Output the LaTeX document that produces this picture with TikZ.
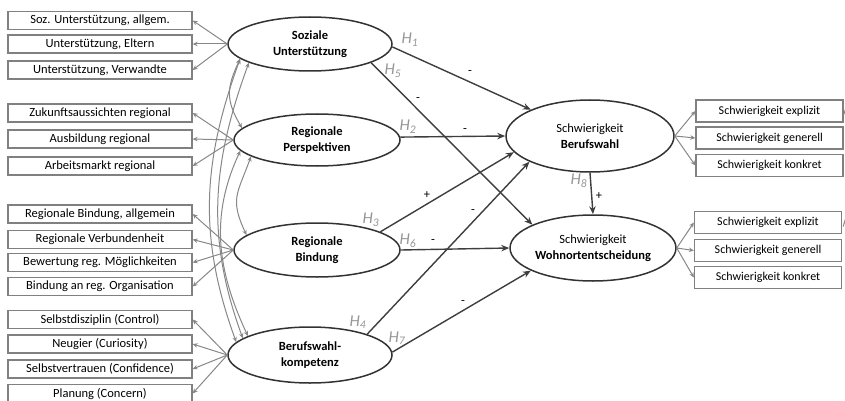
\documentclass[tikz,border=0pt]{standalone}
\usepackage{fontspec}
\setmainfont{Carlito}
\usetikzlibrary{arrows.meta,shapes.geometric}
\definecolor{boxgray}{RGB}{128,128,128}
\definecolor{indgray}{RGB}{135,135,135}
\definecolor{ellgray}{RGB}{50,50,50}
\definecolor{pathgray}{RGB}{62,62,62}
\definecolor{hgray}{RGB}{150,150,150}
\newcommand{\hyp}[1]{H\textsubscript{#1}}
\begin{document}
\begin{tikzpicture}[x=1pt,y=1pt,
  indbox/.style={draw=boxgray, line width=1.3pt, minimum width=184pt, minimum height=18pt, inner sep=0pt, font=\fontsize{12.5}{14}\selectfont, text=black},
  rbox/.style={indbox, minimum width=147pt, minimum height=22pt, font=\fontsize{12}{14}\selectfont},
  latent/.style={draw=ellgray, line width=1.5pt, ellipse, inner sep=0pt, align=center, font=\fontsize{12.5}{15.5}\selectfont, text=black},
  indarr/.style={draw=indgray, line width=1pt, -{Stealth[length=5pt,width=4.5pt]}},
  covarr/.style={draw=indgray, line width=1pt, {Stealth[length=5pt,width=4.5pt]}-{Stealth[length=5pt,width=4.5pt]}},
  patharr/.style={draw=pathgray, line width=1.4pt, -{Stealth[length=8pt,width=6.5pt]}},
  hlab/.style={text=hgray, font=\fontsize{16.5}{16.5}\selectfont\itshape, inner sep=0pt},
  sign/.style={text=black, font=\fontsize{12.5}{12.5}\selectfont, inner sep=0pt}
]
\useasboundingbox (0,0) rectangle (845,-401);

% left indicator boxes
\node[indbox] (a1) at (100,-20.5) {Soz. Unterstützung, allgem.};
\node[indbox] (a2) at (100,-44) {Unterstützung, Eltern};
\node[indbox] (a3) at (100,-70) {Unterstützung, Verwandte};
\node[indbox] (b1) at (100,-113) {Zukunftsaussichten regional};
\node[indbox] (b2) at (100,-139) {Ausbildung regional};
\node[indbox] (b3) at (100,-166) {Arbeitsmarkt regional};
\node[indbox] (c1) at (100,-214) {Regionale Bindung, allgemein};
\node[indbox] (c2) at (100,-239.5) {Regionale Verbundenheit};
\node[indbox] (c3) at (100,-262.5) {Bewertung reg. Möglichkeiten};
\node[indbox] (c4) at (100,-286.5) {Bindung an reg. Organisation};
\node[indbox] (d1) at (100,-319.5) {Selbstdisziplin (Control)};
\node[indbox] (d2) at (100,-344) {Neugier (Curiosity)};
\node[indbox] (d3) at (100,-369) {Selbstvertrauen (Confidence)};
\node[indbox] (d4) at (100,-393.5) {Planung (Concern)};

% latent variables
\node[latent, minimum width=164pt, minimum height=54pt] (soz) at (310,-44) {\bfseries Soziale\\\bfseries Unterstützung};
\node[latent, minimum width=166pt, minimum height=52pt] (per) at (317,-140) {\bfseries Regionale\\\bfseries Perspektiven};
\node[latent, minimum width=166pt, minimum height=54pt] (bin) at (317,-250) {\bfseries Regionale\\\bfseries Bindung};
\node[latent, minimum width=164pt, minimum height=56pt] (bwk) at (310,-355) {\bfseries Berufswahl-\\\bfseries kompetenz};
\node[latent, minimum width=168pt, minimum height=72pt] (bw) at (590,-136) {Schwierigkeit\\\bfseries Berufswahl};
\node[latent, minimum width=166pt, minimum height=66pt] (wo) at (593,-248) {Schwierigkeit\\\bfseries Wohnortentscheidung};

% right indicator boxes
\node[rbox] (r1) at (769.5,-111) {Schwierigkeit explizit};
\node[rbox] (r2) at (769.5,-138) {Schwierigkeit generell};
\node[rbox] (r3) at (769.5,-165.5) {Schwierigkeit konkret};
\node[rbox] (s1) at (768,-222.5) {Schwierigkeit explizit};
\node[rbox] (s2) at (768,-250.5) {Schwierigkeit generell};
\node[rbox] (s3) at (768,-277.5) {Schwierigkeit konkret};

% measurement arrows
\foreach \t in {a1,a2,a3} \draw[indarr] (soz.west) -- (\t.east);
\foreach \t in {b1,b2,b3} \draw[indarr] (per.west) -- (\t.east);
\foreach \t in {c1,c2,c3,c4} \draw[indarr] (bin.west) -- (\t.east);
\foreach \t in {d1,d2,d3,d4} \draw[indarr] (bwk.west) -- (\t.east);
\foreach \t in {r1,r2,r3} \draw[indarr] (bw.east) -- (\t.west);
\foreach \t in {s1,s2,s3} \draw[indarr] (wo.east) -- (\t.west);

% cut-off strokes at the right edge
\coordinate (e1) at (847,-104);
\coordinate (e2) at (847,-214);
\draw[draw=indgray, line width=1pt] ([yshift=-4pt]r1.east) -- (e1);
\draw[draw=indgray, line width=1pt] ([yshift=-4pt,xshift=1pt]s1.east) -- (e2);

% covariances
\draw[covarr] (soz.192) to[out=245,in=120,looseness=1.2] (per.171);
\draw[covarr] (per.194) to[out=250,in=115,looseness=1.3] (bin.168);
\draw[covarr] (soz.192) to[out=250,in=110] (bwk.170);
\draw[covarr] (soz.197) to[out=250,in=110] (bwk.166);
\draw[covarr] (per.188) to[out=245,in=115] (bwk.163);

% structural paths
\draw[patharr] (soz.-2) -- (bw.156.6);
\draw[patharr] (soz.-17.6) -- (wo.159);
\draw[patharr] (per.2) -- (bw.west);
\draw[patharr] (bin.16.4) -- (bw.192.4);
\draw[patharr] (bin.east) -- (wo.west);
\draw[patharr] (bwk.20) -- (bw.203.4);
\draw[patharr] (bwk.2) -- (wo.200);
\draw[patharr] (bw.south) -- (wo.north);

% hypothesis labels
\node[hlab] (h1) at (410,-40) {\hyp{1}};
\node[hlab] (h5) at (393,-71) {\hyp{5}};
\node[hlab] (h2) at (408,-127) {\hyp{2}};
\node[hlab] (h3) at (371,-220) {\hyp{3}};
\node[hlab] (h6) at (408,-241) {\hyp{6}};
\node[hlab] (h4) at (358,-322) {\hyp{4}};
\node[hlab] (h7) at (397,-338) {\hyp{7}};
\node[hlab] (h8) at (579,-181) {\hyp{8}};

% signs
\node[sign] (s-h1) at (470,-73) {-};
\node[sign] (s-h5) at (418,-100) {-};
\node[sign] (s-h2) at (465,-131) {-};
\node[sign] (s-h3) at (427,-195) {+};
\node[sign] (s-h6) at (433,-242) {-};
\node[sign] (s-h4) at (473,-212) {-};
\node[sign] (s-h7) at (463,-303) {-};
\node[sign] (s-h8) at (599,-196) {+};
\end{tikzpicture}
\end{document}
